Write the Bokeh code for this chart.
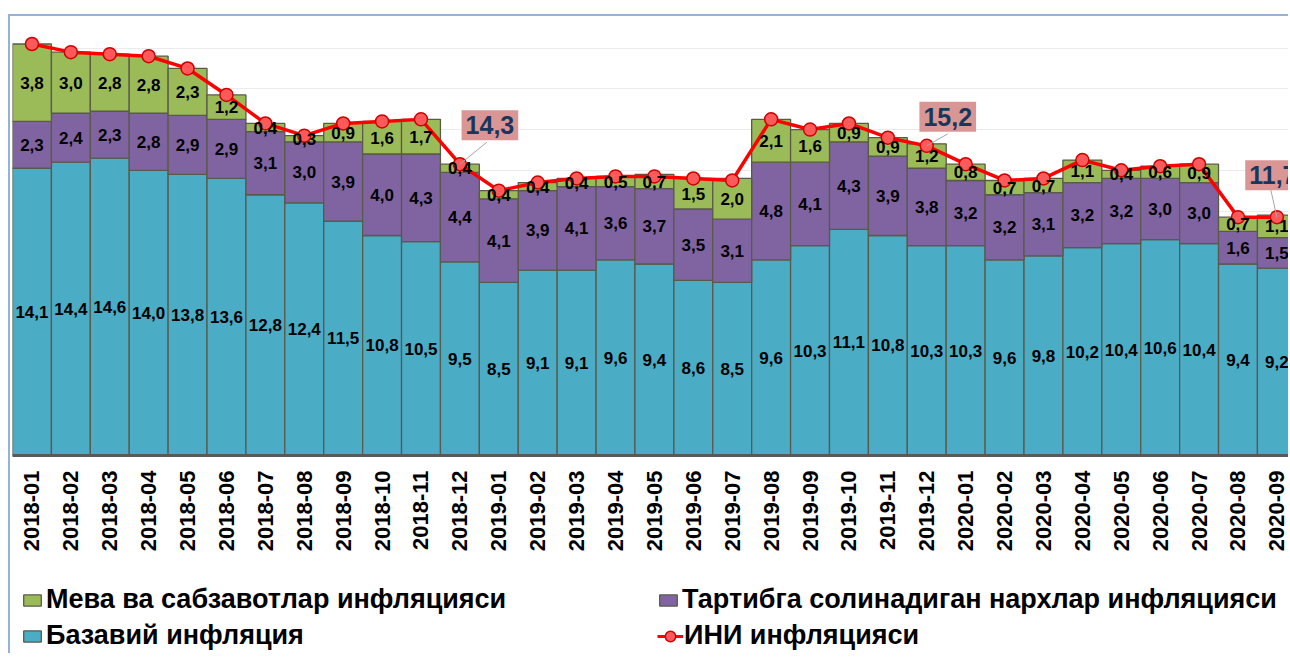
from bokeh.plotting import figure
from bokeh.layouts import column
from bokeh.models import (ColumnDataSource, Range1d, FixedTicker, Legend, LegendItem, Label)
from bokeh.core.properties import value
from bokeh.embed import file_html
from bokeh.resources import INLINE
import math

months = ["2018-01", "2018-02", "2018-03", "2018-04", "2018-05", "2018-06", "2018-07", "2018-08",
          "2018-09", "2018-10", "2018-11", "2018-12", "2019-01", "2019-02", "2019-03", "2019-04",
          "2019-05", "2019-06", "2019-07", "2019-08", "2019-09", "2019-10", "2019-11", "2019-12",
          "2020-01", "2020-02", "2020-03", "2020-04", "2020-05", "2020-06", "2020-07", "2020-08",
          "2020-09"]
base = [14.1, 14.4, 14.6, 14.0, 13.8, 13.6, 12.8, 12.4, 11.5, 10.8, 10.5, 9.5,
        8.5, 9.1, 9.1, 9.6, 9.4, 8.6, 8.5, 9.6, 10.3, 11.1, 10.8, 10.3,
        10.3, 9.6, 9.8, 10.2, 10.4, 10.6, 10.4, 9.4, 9.2]
regulated = [2.3, 2.4, 2.3, 2.8, 2.9, 2.9, 3.1, 3.0, 3.9, 4.0, 4.3, 4.4,
             4.1, 3.9, 4.1, 3.6, 3.7, 3.5, 3.1, 4.8, 4.1, 4.3, 3.9, 3.8,
             3.2, 3.2, 3.1, 3.2, 3.2, 3.0, 3.0, 1.6, 1.5]
fruitveg = [3.8, 3.0, 2.8, 2.8, 2.3, 1.2, 0.4, 0.3, 0.9, 1.6, 1.7, 0.4,
            0.4, 0.4, 0.4, 0.5, 0.7, 1.5, 2.0, 2.1, 1.6, 0.9, 0.9, 1.2,
            0.8, 0.7, 0.7, 1.1, 0.4, 0.6, 0.9, 0.7, 1.1]
cpi = [20.2, 19.8, 19.7, 19.6, 19.0, 17.7, 16.3, 15.7, 16.3, 16.4, 16.5, 14.3,
       13.0, 13.4, 13.6, 13.7, 13.7, 13.6, 13.5, 16.5, 16.0, 16.3, 15.6, 15.2,
       14.3, 13.5, 13.6, 14.5, 14.0, 14.2, 14.3, 11.7, 11.7]
highlight = ["2018-12", "2019-12", "2020-09"]

series_names = ["Базавий инфляция", "Тартибга солинадиган нархлар инфляцияси",
                "Мева ва сабзавотлар инфляцияси", "ИНИ инфляцияси"]
colors = ["#4BACC6", "#8064A2", "#9BBB59"]

FONT = "Liberation Sans"
BORDER = "2px solid #95B3D7"
EDGE = "#5A5A4A"

def fmt(v):
    return f"{v:.1f}".replace(".", ",")

x = list(range(len(months)))
src = ColumnDataSource(dict(x=x, base=base, regulated=regulated, fruitveg=fruitveg, cpi=cpi))

p = figure(width=1280, height=543, output_backend="svg", toolbar_location=None,
           x_range=Range1d(-0.5, 32.35), y_range=Range1d(0, 21.55))
p.margin = (14, 0, 0, 8)
p.styles = {"border-top": BORDER, "border-left": BORDER}
p.min_border_left = 2
p.min_border_right = 0
p.min_border_top = 0
p.min_border_bottom = 104
p.outline_line_color = None
p.background_fill_color = "white"
p.border_fill_color = "white"

bars = p.vbar_stack(["base", "regulated", "fruitveg"], x="x", width=1.0, source=src,
                    color=colors, line_color=EDGE, line_width=1.3)

line_kw = dict(line_color="#FF0000", line_width=3.5)
mark_kw = dict(size=13, fill_color="#FF5A5A", line_color="#D00000", line_width=1.5)
p.line("x", "cpi", source=src, **line_kw)
p.scatter("x", "cpi", source=src, **mark_kw)

# segment labels
lab = dict(x=[], y=[], t=[])
for i in x:
    b, r, f = base[i], regulated[i], fruitveg[i]
    for mid, v in ((b / 2, b), (b + r / 2, r), (b + r + f / 2, f)):
        lab["x"].append(i)
        lab["y"].append(mid)
        lab["t"].append(fmt(v))
p.text("x", "y", text="t", source=ColumnDataSource(lab), text_align="center",
       text_baseline="middle", text_font=value(FONT), text_font_style="bold",
       text_font_size="17px", text_color="black")

# callouts
XPX, YPX = 1278 / 32.85, 439 / 21.55
callout = {"2018-12": (30, 39, 27, 22), "2019-12": (21, 29, 21, 12), "2020-09": (-4, 42, -6, 27)}
for m in highlight:
    i = months.index(m)
    dx, dy, lx, ly = callout[m]
    p.segment(x0=[i], y0=[cpi[i]], x1=[i + lx / XPX], y1=[cpi[i] + ly / YPX],
              line_color="#A6A6A6", line_width=1)
    p.add_layout(Label(x=i, y=cpi[i], x_offset=dx, y_offset=dy, text=fmt(cpi[i]),
                       text_align="center", text_baseline="middle",
                       text_font=FONT, text_font_style="bold", text_font_size="25px",
                       text_color="#17375E", background_fill_color="#D99694",
                       padding=(4, 6)))

p.yaxis.visible = False
p.ygrid.ticker = FixedTicker(ticks=[2, 4, 6, 8, 10, 12, 14, 16, 18, 20])
p.ygrid.grid_line_color = "#EBEBEB"
p.xgrid.grid_line_color = None

xa = p.xaxis[0]
xa.ticker = FixedTicker(ticks=x)
xa.major_label_overrides = {i: m for i, m in enumerate(months)}
xa.major_label_orientation = math.pi / 2
xa.major_label_text_font = FONT
xa.major_label_text_font_style = "bold"
xa.major_label_text_font_size = "22px"
xa.major_label_text_color = "black"
xa.major_label_standoff = 15
xa.major_tick_out = 0
xa.major_tick_in = 0
xa.major_tick_line_color = None
xa.minor_tick_line_color = None
xa.axis_line_color = "#595959"
xa.axis_line_width = 3

# legend strip (second figure in the same page column); the series renderers
# here use the same data but lie outside this strip's visible range
q = figure(width=1280, height=96, output_backend="svg", toolbar_location=None,
           x_range=Range1d(-200, -199), y_range=Range1d(-200, -199))
q.margin = (0, 0, 0, 8)
q.styles = {"border-left": BORDER}
q.min_border_left = 0
q.min_border_right = 0
q.min_border_top = 0
q.min_border_bottom = 0
q.axis.visible = False
q.grid.visible = False
q.outline_line_color = None
q.border_fill_color = "white"

k_bars = q.vbar_stack(["base", "regulated", "fruitveg"], x="x", width=1.0, source=src,
                      color=colors, line_color=EDGE, line_width=1.3)
k_line = q.line("x", "cpi", source=src, line_color="#FF0000", line_width=3)
k_mark = q.scatter("x", "cpi", source=src, **mark_kw)

common = dict(orientation="horizontal", label_text_font=FONT, label_text_font_style="bold",
              label_text_font_size="27px", label_text_color="black", glyph_width=22,
              glyph_height=14, label_standoff=3, label_width=602, spacing=9, padding=0,
              margin=0, border_line_color=None, background_fill_alpha=0)
legend_a = Legend(items=[
    LegendItem(label=series_names[2], renderers=[k_bars[2]]),
    LegendItem(label=series_names[1], renderers=[k_bars[1]]),
], location=(9, 38), **common)
legend_b = Legend(items=[
    LegendItem(label=series_names[0], renderers=[k_bars[0]]),
], location=(9, 2), **common)
legend_c = Legend(items=[
    LegendItem(label=series_names[3], renderers=[k_line, k_mark]),
], location=(645, 2), **dict(common, glyph_width=26, glyph_height=30, label_standoff=1,
                                label_width=20))
q.add_layout(legend_a, "center")
q.add_layout(legend_b, "center")
q.add_layout(legend_c, "center")

open("out.html", "w").write(file_html(column(p, q, spacing=0), INLINE))
